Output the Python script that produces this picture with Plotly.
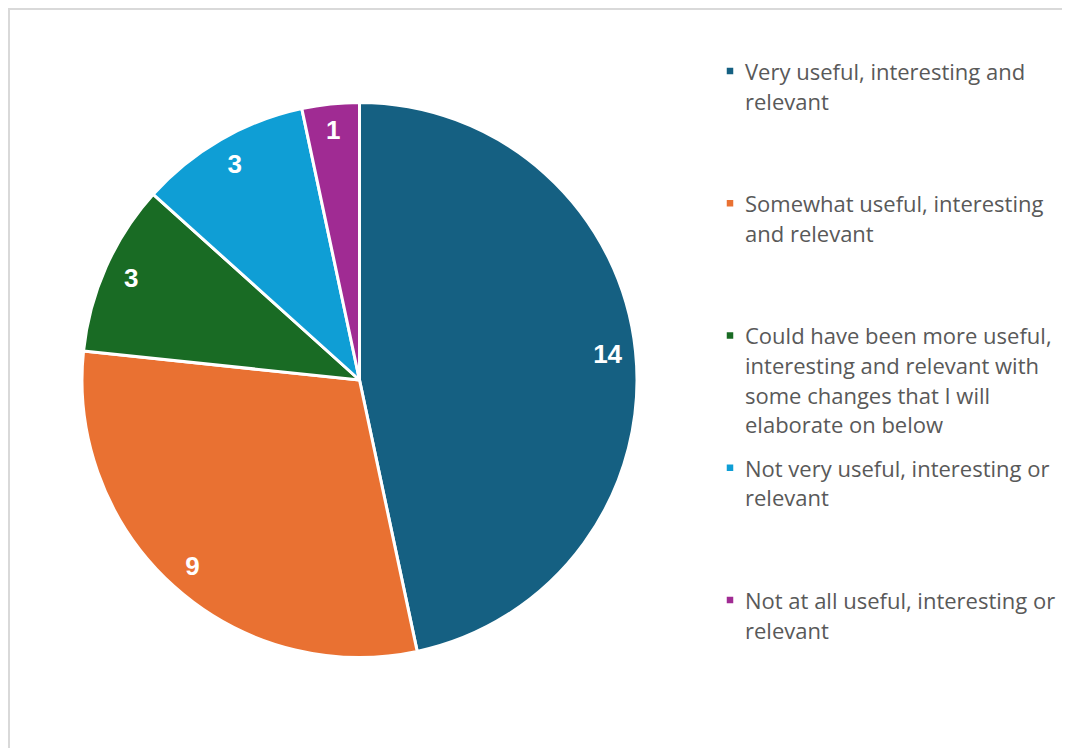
import plotly.graph_objects as go

# ---- data ----
labels = [
    "Very useful, interesting and<br>relevant",
    "Somewhat useful, interesting<br>and relevant",
    "Could have been more useful,<br>interesting and relevant with<br>some changes that I will<br>elaborate on below",
    "Not very useful, interesting or<br>relevant",
    "Not at all useful, interesting or<br>relevant",
]
values = [14, 9, 3, 3, 1]
colors = ["#156082", "#E97132", "#196B24", "#0F9ED5", "#A02B93"]

W, H = 1070, 748
OFF = 8.0  # page body margin offset
cx, cy, R = 359.5 - OFF, 380.0 - OFF, 277.5
dom_x = [(cx - R) / W, (cx + R) / W]
dom_y = [(H - cy - R) / H, (H - cy + R) / H]

fig = go.Figure()
fig.add_trace(go.Pie(
    labels=labels, values=values, sort=False, direction="clockwise", rotation=0,
    marker=dict(colors=colors, line=dict(color="white", width=3)),
    textinfo="none", hoverinfo="label+value", showlegend=False,
    domain=dict(x=dom_x, y=dom_y),
))
# transparent ring carrying the value labels near the rim
fig.add_trace(go.Pie(
    labels=labels, values=values, sort=False, direction="clockwise", rotation=0,
    hole=0.8,
    marker=dict(colors=["rgba(0,0,0,0)"] * len(values), line=dict(width=0)),
    textinfo="value", textposition="inside", insidetextorientation="horizontal",
    insidetextfont=dict(color="white", size=26, family="Liberation Sans, Arial"),
    texttemplate="<b>%{value}</b>",
    hoverinfo="skip", showlegend=False,
    domain=dict(x=dom_x, y=dom_y),
))

# ---- legend drawn as annotations + square markers ----
annotations = []
shapes = []
entry_y0, entry_step, line_step = 71.0 - OFF, 132.25, 29.6
text_x, sq_x, sq = 743.0 - OFF, 730.0 - OFF, 6.5
for i, (lab, col) in enumerate(zip(labels, colors)):
    y_first = entry_y0 + i * entry_step
    shapes.append(dict(type="rect", xref="paper", yref="paper",
                       x0=(sq_x - sq / 2) / W, x1=(sq_x + sq / 2) / W,
                       y0=1 - (y_first + sq / 2) / H, y1=1 - (y_first - sq / 2) / H,
                       fillcolor=col, line=dict(width=0)))
    for j, line in enumerate(lab.split("<br>")):
        annotations.append(dict(
            x=text_x / W, y=1 - (y_first + j * line_step) / H,
            xref="paper", yref="paper", xanchor="left", yanchor="middle",
            text=line, showarrow=False,
            font=dict(size=22, color="#595959", family="Open Sans"),
        ))

# chart border (top & left visible)
bx, by = 1.0 / W, 1 - 1.0 / H
shapes.append(dict(type="path", xref="paper", yref="paper",
                   path=f"M {bx},-0.05 L {bx},{by} L 1.05,{by}",
                   line=dict(color="#D9D9D9", width=2)))

fig.update_layout(
    width=W, height=H,
    margin=dict(l=0, r=0, t=0, b=0),
    paper_bgcolor="white", plot_bgcolor="white",
    annotations=annotations, shapes=shapes,
    showlegend=False,
)
fig.write_html("out.html")
